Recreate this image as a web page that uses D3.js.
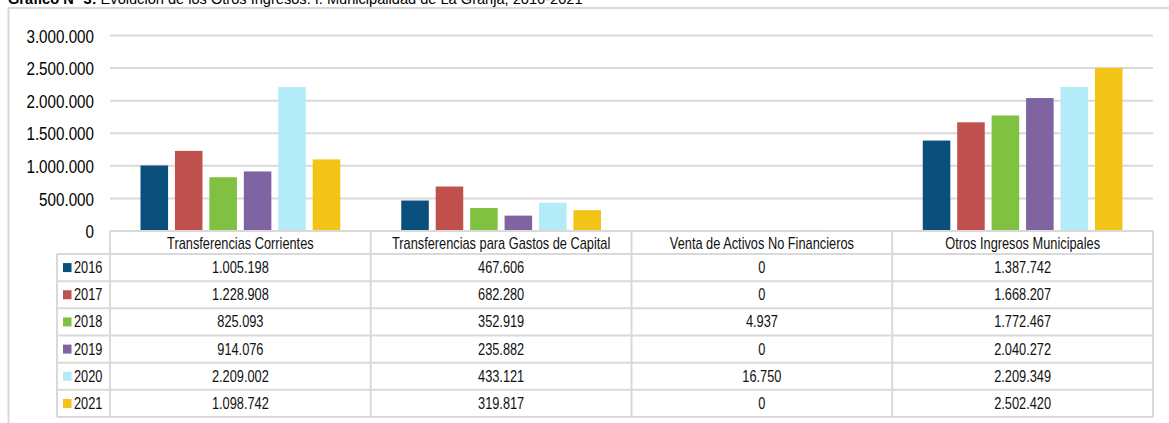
<!DOCTYPE html>
<html><head><meta charset="utf-8">
<script src="https://cdn.jsdelivr.net/npm/d3@7"></script>
<style>html,body{margin:0;padding:0;background:#fff;overflow:hidden}svg{display:block}</style>
</head><body>
<script>
const title_bold = "Gráfico N° 3:";
const title_rest = " Evolución de los Otros Ingresos. I. Municipalidad de La Granja, 2016-2021";
const categories = ["Transferencias Corrientes","Transferencias para Gastos de Capital","Venta de Activos No Financieros","Otros Ingresos Municipales"];
const years = ["2016","2017","2018","2019","2020","2021"];
const v2016 = [1005198, 467606, 0, 1387742];
const v2017 = [1228908, 682280, 0, 1668207];
const v2018 = [825093, 352919, 4937, 1772467];
const v2019 = [914076, 235882, 0, 2040272];
const v2020 = [2209002, 433121, 16750, 2209349];
const v2021 = [1098742, 319817, 0, 2502420];
const yTickValues = [0, 500000, 1000000, 1500000, 2000000, 2500000, 3000000];
const seriesColors = ["#0b4f7c","#c0504d","#80c141","#8064a2","#b3ebf9","#f2c418"];

const series = [v2016, v2017, v2018, v2019, v2020, v2021];
const W = 1169, H = 423;
const plotL = 110, plotR = 1153, legL = 57;
const tableTop = 231, headH = 23, rowH = 27.17;
const gridCol = "#d9d9d9";
const narrow = 0.8;
const FONT = "'Liberation Sans', Arial, sans-serif";

const loc = d3.formatLocale({decimal: ",", thousands: ".", grouping: [3], currency: ["$", ""]});
const fmt = loc.format(",d");

const svg = d3.select("body").append("svg").attr("width", W).attr("height", H)
  .style("font-family", FONT);

// frame
svg.append("path").attr("d", `M8.5,${H} L8.5,8 L${W},8`).attr("fill","none")
  .attr("stroke", "#d9d9d9").attr("stroke-width", 2);

// title (clipped at top, as in the reference)
const tt = svg.append("text").attr("x", 8).attr("y", 4).attr("font-size", 14.6).attr("fill", "#000");
tt.append("tspan").attr("font-weight", "bold").text(title_bold);
tt.append("tspan").text(title_rest);

const y = d3.scaleLinear().domain([0, 3000000]).range([tableTop, 35.5]);
const x0 = d3.scaleBand().domain(categories).range([plotL, plotR]).padding(0);
const bw = x0.bandwidth();
const x1 = d3.scaleBand().domain(years).range([bw*0.117, bw*0.883]).paddingInner(0.2).paddingOuter(0);

// gridlines
svg.append("g").selectAll("line").data(yTickValues.filter(d => d > 0)).join("line")
  .attr("x1", plotL).attr("x2", plotR).attr("y1", d => y(d)).attr("y2", d => y(d))
  .attr("stroke", gridCol).attr("stroke-width", 2);

// y axis
const ax = svg.append("g").attr("transform", `translate(${plotL},0)`)
  .call(d3.axisLeft(y).tickValues(yTickValues).tickFormat(fmt).tickSize(0).tickPadding(0));
ax.select(".domain").remove();
ax.selectAll("text").attr("x", null).attr("dy", null).attr("font-family", FONT)
  .attr("font-size", 19).attr("fill", "#000").attr("text-anchor", "end")
  .attr("dominant-baseline", "central")
  .attr("transform", `translate(-16,0) scale(${narrow},1)`);

// bars
const groups = svg.append("g").selectAll("g").data(categories).join("g")
  .attr("transform", d => `translate(${x0(d)},0)`);
groups.selectAll("rect").data((c, ci) => years.map((yr, si) => ({yr, v: series[si][ci], si})))
  .join("rect")
  .attr("x", d => x1(d.yr)).attr("width", x1.bandwidth())
  .attr("y", d => y(d.v)).attr("height", d => y(0) - y(d.v))
  .attr("fill", d => seriesColors[d.si]);

// table
const tbl = svg.append("g");
const tableBottom = tableTop + headH + rowH * years.length;
const hline = (x1_, x2_, yy) => tbl.append("line").attr("x1", x1_).attr("x2", x2_).attr("y1", yy).attr("y2", yy)
  .attr("stroke", gridCol).attr("stroke-width", 2);
const vline = (xx, y1_, y2_) => tbl.append("line").attr("x1", xx).attr("x2", xx).attr("y1", y1_).attr("y2", y2_)
  .attr("stroke", gridCol).attr("stroke-width", 2);
hline(plotL, plotR, tableTop);
for (let i = 0; i <= years.length; i++) hline(legL, plotR, tableTop + headH + rowH * i);
vline(legL, tableTop + headH, tableBottom);
categories.forEach(c => vline(x0(c), tableTop, tableBottom));
vline(plotR, tableTop, tableBottom);

const ntext = (g, x, yy, txt, size, anchor) => g.append("text")
  .attr("transform", `translate(${x},${yy}) scale(${narrow},1)`)
  .attr("text-anchor", anchor).attr("dominant-baseline", "central")
  .attr("font-size", size).attr("fill", "#111").text(txt);

categories.forEach(c => ntext(tbl, x0(c) + bw/2, tableTop + headH/2 + 0.5, c, 16, "middle"));
years.forEach((yr, si) => {
  const cy = tableTop + headH + rowH * (si + 0.5);
  tbl.append("rect").attr("x", 63).attr("y", cy - 4.5).attr("width", 8.5).attr("height", 9)
    .attr("fill", seriesColors[si]);
  ntext(tbl, 74, cy, yr, 16, "start");
  categories.forEach((c, ci) => ntext(tbl, x0(c) + bw/2, cy, fmt(series[si][ci]), 16, "middle"));
});
</script>
</body></html>
